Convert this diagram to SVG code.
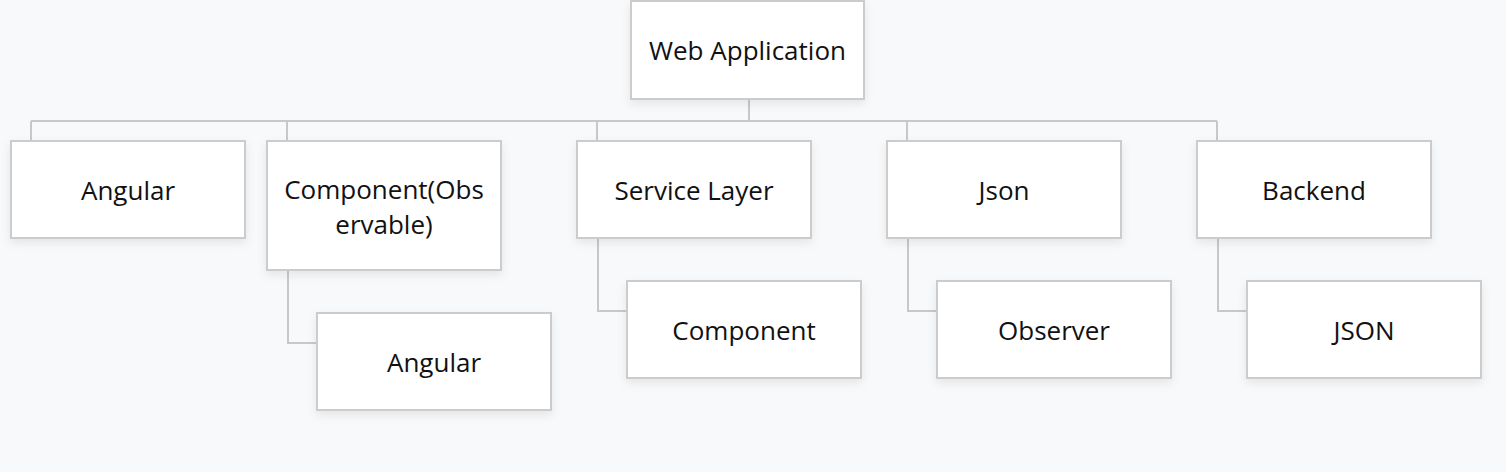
<svg xmlns="http://www.w3.org/2000/svg" width="1506" height="472" viewBox="0 0 1506 472">
<defs>
<filter id="sh" x="-10%" y="-20%" width="120%" height="150%">
<feDropShadow dx="0" dy="4" stdDeviation="5" flood-color="#000" flood-opacity="0.08"/>
</filter>
<style>
.box{fill:#fff;stroke:#cccccc;stroke-width:2;filter:url(#sh)}
.lbl{font-family:"Open Sans","Noto Sans",sans-serif;font-size:26px;fill:#111;text-anchor:middle}
.ln{fill:none;stroke:#c8c8c8;stroke-width:2}
</style>
</defs>
<rect width="1506" height="472" fill="#f8f9fb"/>
<g id="connectors">
<path class="ln" d="M749 99V121M31 121H1217M31 121V141M287 121V141M597 121V141M907 121V141M1217 121V141"/>
<path class="ln" d="M288 270V343H317M598 238V311H627M908 238V311H937M1218 238V311H1247"/>
</g>
<g id="web-application"><rect class="box" x="631" y="1" width="233" height="98"/><text class="lbl" x="747.5" y="60">Web Application</text></g>
<g id="angular"><rect class="box" x="11" y="141" width="234" height="97"/><text class="lbl" x="128" y="200">Angular</text></g>
<g id="component-observable"><rect class="box" x="267" y="141" width="234" height="129"/><text class="lbl" x="384" y="199">Component(Obs</text><text class="lbl" x="384" y="234">ervable)</text></g>
<g id="service-layer"><rect class="box" x="577" y="141" width="234" height="97"/><text class="lbl" x="694" y="200">Service Layer</text></g>
<g id="json"><rect class="box" x="887" y="141" width="234" height="97"/><text class="lbl" x="1004" y="200">Json</text></g>
<g id="backend"><rect class="box" x="1197" y="141" width="234" height="97"/><text class="lbl" x="1314" y="200">Backend</text></g>
<g id="angular-2"><rect class="box" x="317" y="313" width="234" height="97"/><text class="lbl" x="434" y="372">Angular</text></g>
<g id="component"><rect class="box" x="627" y="281" width="234" height="97"/><text class="lbl" x="744" y="340">Component</text></g>
<g id="observer"><rect class="box" x="937" y="281" width="234" height="97"/><text class="lbl" x="1054" y="340">Observer</text></g>
<g id="json-2"><rect class="box" x="1247" y="281" width="234" height="97"/><text class="lbl" x="1364" y="340">JSON</text></g>
</svg>
